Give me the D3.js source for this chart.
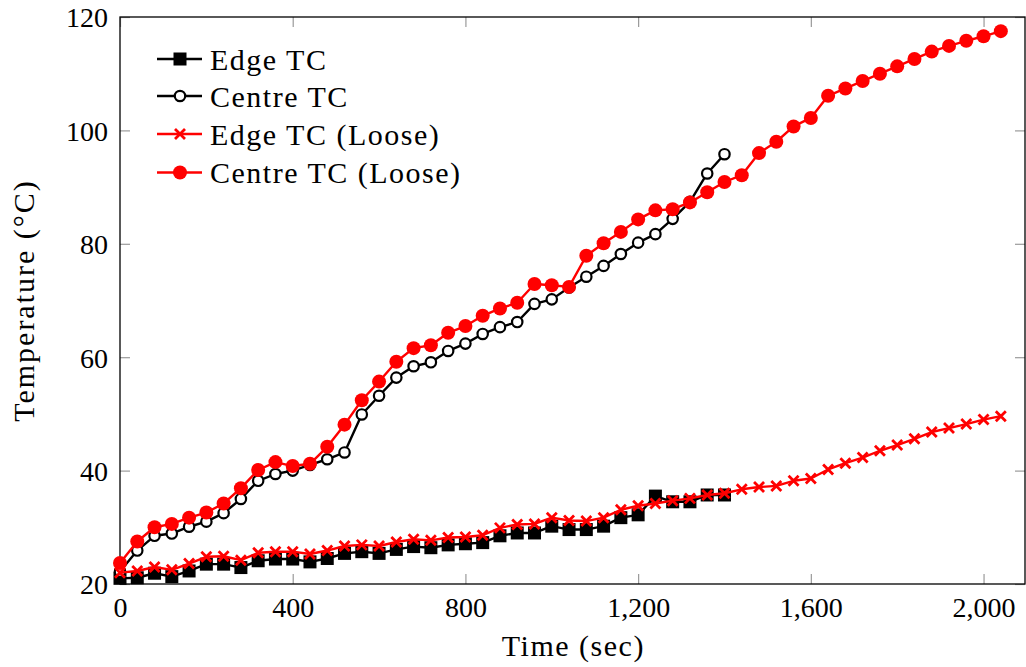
<!DOCTYPE html>
<html>
<head>
<meta charset="utf-8">
<script src="https://d3js.org/d3.v7.min.js"></script>
<style>
  body { margin: 0; background: #fff; }
</style>
</head>
<body>
<svg id="chart" width="1026" height="667"></svg>
<script>
// time axis (sec), every 40 s
const timeShort = d3.range(0, 1401, 40);
const timeLong = d3.range(0, 2041, 40);

const edgeTC = [21.0, 21.1, 21.9, 21.3, 22.3, 23.5, 23.5, 22.9, 24.1, 24.4,
  24.4, 23.9, 24.5, 25.4, 25.7, 25.4, 26.1, 26.6, 26.4, 26.9,
  27.1, 27.3, 28.5, 29.0, 29.0, 30.2, 29.6, 29.6, 30.2, 31.7,
  32.2, 35.5, 34.5, 34.5, 35.7, 35.7];

const centreTC = [22.2, 25.9, 28.5, 28.9, 30.1, 31.0, 32.5, 35.0, 38.2, 39.4,
  40.0, 41.0, 42.0, 43.2, 49.9, 53.2, 56.4, 58.4, 59.1, 61.1,
  62.4, 64.1, 65.3, 66.2, 69.4, 70.2, 72.3, 74.2, 76.1, 78.2,
  80.2, 81.7, 84.4, 87.4, 92.4, 95.8];

const edgeLoose = [22.0, 22.3, 23.0, 22.5, 23.6, 24.8, 24.9, 24.2, 25.5, 25.7,
  25.7, 25.3, 25.9, 26.7, 26.9, 26.7, 27.4, 27.9, 27.7, 28.2,
  28.3, 28.6, 29.9, 30.5, 30.6, 31.7, 31.2, 31.1, 31.7, 33.1,
  33.8, 34.2, 34.7, 35.1, 35.7, 36.0, 36.7, 37.1, 37.3, 38.2,
  38.6, 40.2, 41.3, 42.3, 43.5, 44.5, 45.6, 46.8, 47.5, 48.2,
  49.0, 49.6];

const centreLoose = [23.7, 27.5, 30.0, 30.6, 31.7, 32.6, 34.2, 36.9, 40.1, 41.5,
  40.8, 41.2, 44.2, 48.1, 52.4, 55.7, 59.2, 61.6, 62.1, 64.3,
  65.5, 67.3, 68.6, 69.6, 72.9, 72.7, 72.4, 77.9, 80.1, 82.1,
  84.3, 85.9, 86.1, 87.3, 89.1, 90.9, 92.1, 96.0, 98.0, 100.7,
  102.2, 106.1, 107.4, 108.7, 110.0, 111.3, 112.6, 113.9, 114.9, 115.8,
  116.6, 117.5];

const xTicks = [0, 400, 800, 1200, 1600, 2000];
const yTicks = [20, 40, 60, 80, 100, 120];

const series = [
  { name: "Edge TC", x: timeShort, y: edgeTC, color: "#000", marker: "square" },
  { name: "Centre TC", x: timeShort, y: centreTC, color: "#000", marker: "ocircle" },
  { name: "Edge TC (Loose)", x: timeLong, y: edgeLoose, color: "#ff0000", marker: "cross" },
  { name: "Centre TC (Loose)", x: timeLong, y: centreLoose, color: "#ff0000", marker: "circle" }
];

// pick the first serif face that is actually installed
function pickFont(list) {
  const ctx = document.createElement("canvas").getContext("2d");
  const probe = "Edge TC (Loose) 1,200";
  ctx.font = "40px monospace";
  const base = ctx.measureText(probe).width;
  for (const f of list) {
    ctx.font = `40px "${f}", monospace`;
    if (Math.abs(ctx.measureText(probe).width - base) > 0.5) return `"${f}"`;
  }
  return "serif";
}
const serif = pickFont(["Liberation Serif", "Tinos", "Times New Roman", "DejaVu Serif", "Noto Serif"]);

const svg = d3.select("#chart");
const plotLeft = 120, plotRight = 1025, plotTop = 17, plotBottom = 584;

const x = d3.scaleLinear().domain([0, 2096]).range([plotLeft, plotRight]);
const y = d3.scaleLinear().domain([20, 120]).range([plotBottom, plotTop]);

const fmt = d3.format(",");

// ticks (inside, grey) on all four sides
function styleAxis(g) {
  g.attr("font-family", serif);
  g.select(".domain").remove();
  g.selectAll(".tick line").attr("stroke", "#9a9a9a").attr("stroke-width", 1.2);
  g.selectAll(".tick text").attr("font-size", 28).attr("fill", "#000");
}

svg.append("g")
  .attr("transform", `translate(0,${plotBottom})`)
  .call(d3.axisBottom(x).tickValues(xTicks).tickSize(-10).tickPadding(6).tickFormat(fmt))
  .call(styleAxis)
  .call(g => g.selectAll(".tick text").attr("y", 12).attr("dy", "0.75em"));

svg.append("g")
  .attr("transform", `translate(0,${plotTop})`)
  .call(d3.axisTop(x).tickValues(xTicks).tickSize(-10).tickFormat(""))
  .call(styleAxis);

svg.append("g")
  .attr("transform", `translate(${plotLeft},0)`)
  .call(d3.axisLeft(y).tickValues(yTicks).tickSize(-10).tickPadding(10))
  .call(styleAxis)
  .call(g => g.selectAll(".tick text").attr("x", -12).attr("dy", "0.35em"));

svg.append("g")
  .attr("transform", `translate(${plotRight},0)`)
  .call(d3.axisRight(y).tickValues(yTicks).tickSize(-10).tickFormat(""))
  .call(styleAxis);

// frame
svg.append("rect")
  .attr("x", plotLeft).attr("y", plotTop)
  .attr("width", plotRight - plotLeft).attr("height", plotBottom - plotTop)
  .attr("fill", "none").attr("stroke", "#000").attr("stroke-width", 1.3);

// axis labels
svg.append("text")
  .attr("x", x(1050)).attr("y", 656)
  .attr("text-anchor", "middle")
  .attr("font-family", serif).attr("font-size", 30)
  .attr("letter-spacing", 1.5)
  .text("Time (sec)");

svg.append("text")
  .attr("transform", `translate(34,${(plotTop + plotBottom) / 2}) rotate(-90)`)
  .attr("text-anchor", "middle")
  .attr("font-family", serif).attr("font-size", 30)
  .attr("letter-spacing", 2)
  .text("Temperature (°C)");

function drawMarker(g, type, color) {
  if (type === "square") {
    g.append("rect").attr("x", -6.5).attr("y", -6.5).attr("width", 13).attr("height", 13)
      .attr("fill", color);
  } else if (type === "ocircle") {
    g.append("circle").attr("r", 5.2).attr("fill", "#fff")
      .attr("stroke", color).attr("stroke-width", 2.2);
  } else if (type === "cross") {
    g.append("path").attr("d", "M-5,-5L5,5M-5,5L5,-5")
      .attr("stroke", color).attr("stroke-width", 2.8).attr("fill", "none");
  } else {
    g.append("circle").attr("r", 7).attr("fill", color);
  }
}

const line = d3.line().x(d => x(d[0])).y(d => y(d[1]));

series.forEach(s => {
  const pts = s.x.map((t, i) => [t, s.y[i]]);
  const g = svg.append("g");
  g.append("path")
    .attr("d", line(pts))
    .attr("fill", "none")
    .attr("stroke", s.color)
    .attr("stroke-width", 2.4)
    .attr("stroke-linejoin", "round");
  g.selectAll("g.m").data(pts).enter().append("g")
    .attr("class", "m")
    .attr("transform", d => `translate(${x(d[0])},${y(d[1])})`)
    .each(function () { drawMarker(d3.select(this), s.marker, s.color); });
});

// legend
const legendRows = [59, 96, 134, 172.5];
series.forEach((s, i) => {
  const g = svg.append("g").attr("transform", `translate(0,${legendRows[i]})`);
  g.append("line").attr("x1", 157).attr("x2", 202)
    .attr("stroke", s.color).attr("stroke-width", 2.4);
  const m = g.append("g").attr("transform", "translate(180,0)");
  drawMarker(m, s.marker, s.color);
  g.append("text").attr("x", 210).attr("y", 10.5)
    .attr("font-family", serif).attr("font-size", 30)
    .attr("letter-spacing", 1.5)
    .text(s.name);
});
</script>
</body>
</html>
